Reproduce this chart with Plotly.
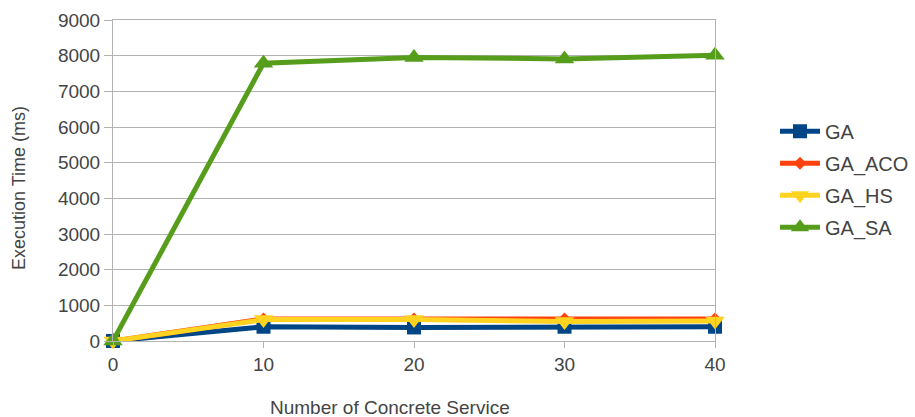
import plotly.graph_objects as go

# Number of concrete services per abstract task
services = [0, 10, 20, 30, 40]

# Execution time (ms) of each algorithm
ga = [0, 400, 380, 400, 400]
ga_aco = [0, 620, 620, 620, 620]
ga_hs = [0, 600, 600, 550, 560]
ga_sa = [0, 7790, 7950, 7910, 8010]

series = [
    ("GA", ga, "#004586", "square", 14),
    ("GA_ACO", ga_aco, "#ff420e", "diamond", 10),
    ("GA_HS", ga_hs, "#ffd320", "triangle-down", 17),
    ("GA_SA", ga_sa, "#579d1c", "triangle-up", 17),
]

font_family = "Liberation Sans, Arial, sans-serif"
text_color = "#444444"
grid_color = "#b3b3b3"

fig = go.Figure()
for name, values, color, symbol, size in series:
    fig.add_trace(go.Scatter(
        x=services, y=values, name=name, mode="lines+markers",
        legendgroup=name,
        line=dict(color=color, width=5),
        marker=dict(color=color, symbol=symbol, size=size),
        cliponaxis=False,
    ))

fig.update_layout(
    width=915, height=417,
    margin=dict(l=113, r=200, t=20, b=76, autoexpand=False),
    paper_bgcolor="white", plot_bgcolor="white",
    font=dict(family=font_family, size=18, color=text_color),
    showlegend=True,
    legend=dict(
        xref="container", yref="container",
        x=0.847, y=0.57, xanchor="left", yanchor="middle",
        font=dict(size=20, color=text_color),
        bgcolor="rgba(0,0,0,0)", itemwidth=40, tracegroupgap=3,
    ),
    xaxis=dict(
        range=[0, 40], tickvals=services, ticks="outside", ticklen=6,
        tickcolor=grid_color, showgrid=False, zeroline=False,
        showline=True, linecolor=grid_color, linewidth=1, mirror=True,
        tickfont=dict(size=19), automargin=False,
    ),
    yaxis=dict(
        range=[0, 9000], dtick=1000, ticks="outside", ticklen=8,
        tickcolor=grid_color, showgrid=True, gridcolor=grid_color,
        zeroline=False, showline=True, linecolor=grid_color, linewidth=1,
        mirror=True, tickfont=dict(size=19), automargin=False,
    ),
    annotations=[
        dict(text="Number of Concrete Service", xref="paper", yref="paper",
             x=(390 - 113) / 602, y=-(407 - 341) / 321,
             xanchor="center", yanchor="middle", showarrow=False,
             font=dict(size=19, color=text_color)),
        dict(text="Execution Time (ms)", xref="paper", yref="paper",
             x=-(113 - 19) / 602, y=(341 - 188) / 321, textangle=-90,
             xanchor="center", yanchor="middle", showarrow=False,
             font=dict(size=18, color=text_color)),
    ],
)

fig.write_html("out.html")
